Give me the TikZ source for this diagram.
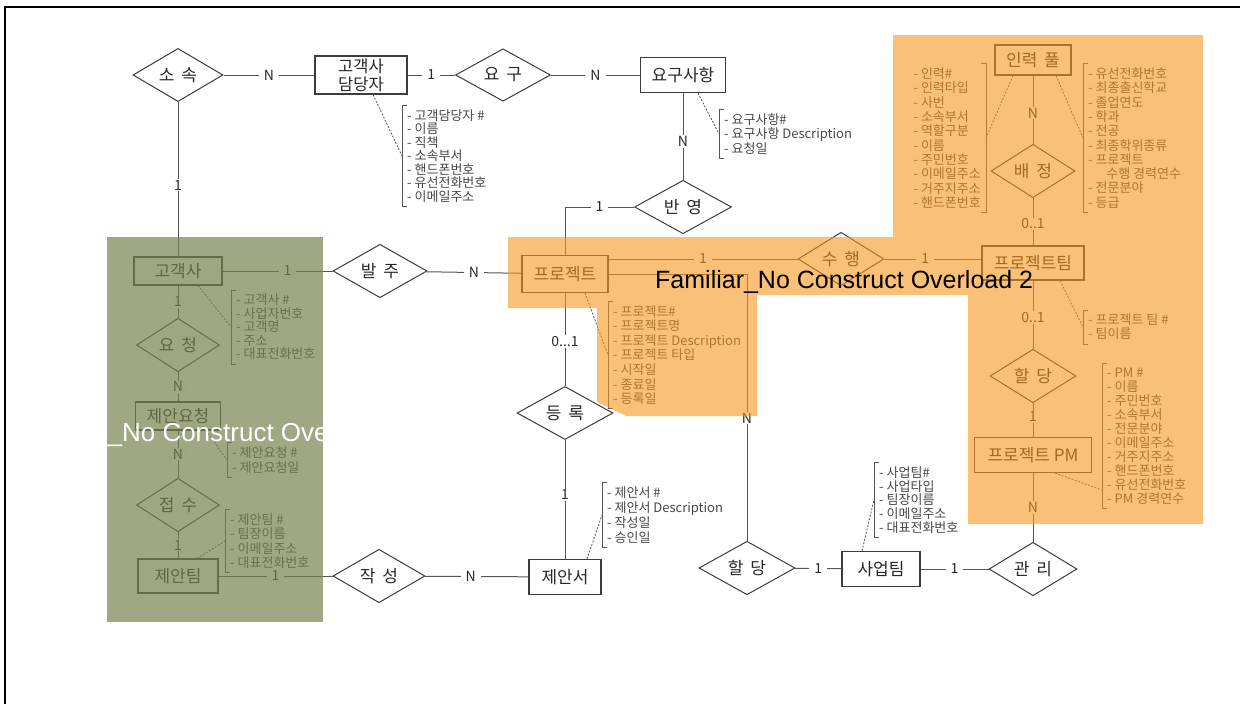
\documentclass[tikz,border=0pt]{standalone}
\usepackage{fontspec}
\setmainfont{Noto Sans CJK KR}
\newfontfamily\latinfont{Liberation Sans}
\usetikzlibrary{shapes.geometric}
\definecolor{linec}{RGB}{85,85,85}
\definecolor{boxc}{RGB}{60,60,60}
\definecolor{txt}{RGB}{40,40,40}
\definecolor{attrc}{RGB}{70,70,70}
\definecolor{orangeov}{RGB}{246,150,30}
\definecolor{greenov}{RGB}{118,130,78}
\newcommand\afont[1]{\fontsize{13}{#1}\selectfont}
\newcommand\gap{\hspace{0.4em}}
\begin{document}
\begin{tikzpicture}[x=1pt,y=-1pt,
 ent/.style={draw=boxc, line width=1.1pt, fill=white, text=txt, font=\fontsize{17}{19}\selectfont, inner sep=0pt, align=center},
 rel/.style={diamond, draw=boxc, line width=1pt, fill=white, text=txt, font=\fontsize{17}{19}\selectfont, inner sep=0pt},
 card/.style={fill=white, text=txt, font=\fontsize{14}{15}\selectfont, inner xsep=5pt, inner ysep=1pt},
 attr/.style={text=attrc, align=left, inner xsep=5pt, inner ysep=4pt},
 conn/.style={draw=linec, line width=1pt},
 dashln/.style={draw=linec, line width=0.8pt, dash pattern=on 2pt off 1.5pt},
 brk/.style={draw=linec, line width=0.8pt},
 ovtext/.style={font=\latinfont\fontsize{25}{25}\selectfont, inner sep=0pt, anchor=base west}]
\useasboundingbox (0,0) rectangle (1240,704);
% frame
\draw[line width=2.2pt, black] (5,704) -- (5,7) -- (1240,7);

% entities
\node[ent, minimum width=92, minimum height=38, font=\fontsize{16.5}{18}\selectfont] (damdang) at (361,75) {고객사\\담당자};
\node[ent, minimum width=85, minimum height=35] (yogusahang) at (683,75) {요구사항};
\node[ent, minimum width=88, minimum height=28] (gogaeksa) at (178,271) {고객사};
\node[ent, minimum width=86, minimum height=37] (project) at (565,274) {프로젝트};
\node[ent, minimum width=85, minimum height=28] (jeanyocheong) at (178,416) {제안요청};
\node[ent, minimum width=80, minimum height=34] (jeanteam) at (178,576) {제안팀};
\node[ent, minimum width=72, minimum height=35] (jeanseo) at (565,577) {제안서};
\node[ent, minimum width=78, minimum height=35] (saeop) at (881,569) {사업팀};
\node[ent, minimum width=76, minimum height=30] (inryeok) at (1033,60) {인력\gap 풀};
\node[ent, minimum width=102, minimum height=34] (projteam) at (1033,263) {프로젝트팀};
\node[ent, minimum width=117, minimum height=35] (pm) at (1033,455) {프로젝트 PM};

% relationships
\node[rel, minimum width=90, minimum height=40] (sosok) at (178,75) {소\gap 속};
\node[rel, minimum width=95, minimum height=42] (yogu) at (503,75) {요\gap 구};
\node[rel, minimum width=97, minimum height=40] (banyeong) at (683,207) {반\gap 영};
\node[rel, minimum width=94, minimum height=40] (balju) at (380,271) {발\gap 주};
\node[rel, minimum width=83, minimum height=40] (yocheong) at (178,345) {요\gap 청};
\node[rel, minimum width=83, minimum height=37] (jeopsu) at (178,505) {접\gap 수};
\node[rel, minimum width=96, minimum height=40] (deungrok) at (565,413) {등\gap 록};
\node[rel, minimum width=92, minimum height=40] (jakseong) at (379,576) {작\gap 성};
\node[rel, minimum width=96, minimum height=40] (halldangB) at (747,568) {할\gap 당};
\node[rel, minimum width=88, minimum height=38] (gwanri) at (1033,569) {관\gap 리};
\node[rel, minimum width=86, minimum height=34] (suhaeng) at (841,259) {수\gap 행};
\node[rel, minimum width=84, minimum height=38] (baejeong) at (1033,171) {배\gap 정};
\node[rel, minimum width=86, minimum height=40] (halldangA) at (1033,376) {할\gap 당};

% connectors
\draw[conn] (sosok) -- node[card]{N} (damdang);
\draw[conn] (damdang) -- node[card]{1} (yogu);
\draw[conn] (yogu) -- node[card]{N} (yogusahang);
\draw[conn] (yogusahang) -- node[card, pos=0.56]{N} (banyeong);
\draw[conn] (banyeong.west) -- node[card]{1} (banyeong.west -| project.north) -- (project.north);
\draw[conn] (sosok) -- node[card, pos=0.54]{1} (gogaeksa);
\draw[conn] (gogaeksa) -- node[card, pos=0.59]{1} (balju);
\draw[conn] (balju) -- node[card]{N} (project);
\draw[conn] (project) -- node[card, pos=0.52]{0...1} (deungrok);
\draw[conn] (deungrok) -- node[card, pos=0.46]{1} (jeanseo);
\draw[conn] (suhaeng.west) -- node[card]{1} (suhaeng.west -| project.east);
\draw[conn] (suhaeng.east) -- node[card, pos=0.42]{1} (suhaeng.east -| projteam.west);
\draw[conn] (project.east) -| node[card, pos=0.77]{N} (halldangB.north);
\draw[conn] (halldangB) -- node[card]{1} (saeop);
\draw[conn] (saeop) -- node[card]{1} (gwanri);
\draw[conn] (gwanri) -- node[card]{N} (pm);
\draw[conn] (inryeok) -- node[card, pos=0.55]{N} (baejeong);
\draw[conn] (baejeong) -- node[card, pos=0.54]{0..1} (projteam);
\draw[conn] (projteam) -- node[card, pos=0.54]{0..1} (halldangA);
\draw[conn] (halldangA) -- node[card, pos=0.4]{1} (pm);
\draw[conn] (jakseong) -- node[card, pos=0.44]{N} (jeanseo);
\draw[conn] (jeanteam) -- node[card]{1} (jakseong);
\draw[conn] (gogaeksa) -- node[card]{1} (yocheong);
\draw[conn] (yocheong) -- node[card]{N} (jeanyocheong);
\draw[conn] (jeanyocheong) -- node[card]{N} (jeopsu);
\draw[conn] (jeopsu) -- node[card]{1} (jeanteam);

% attribute lists
\node[attr, font=\afont{13.5}, anchor=west] (A1) at (402,156) {- 고객담당자 \#\\- 이름\\- 직책\\- 소속부서\\- 핸드폰번호\\- 유선전화번호\\- 이메일주소};
\node[attr, font=\afont{14.5}, anchor=west] (A2) at (719,134) {- 요구사항\#\\- 요구사항 Description\\- 요청일};
\node[attr, font=\afont{14.3}, anchor=east] (A3) at (986,138) {- 인력\#\\- 인력타입\\- 사번\\- 소속부서\\- 역할구분\\- 이름\\- 주민번호\\- 이메일주소\\- 거주지주소\\- 핸드폰번호};
\node[attr, font=\afont{14.3}, anchor=west] (A4) at (1083,138) {- 유선전화번호\\- 최종출신학교\\- 졸업연도\\- 학과\\- 전공\\- 최종학위종류\\- 프로젝트\\\hspace*{1.4em}수행 경력연수\\- 전문분야\\- 등급};
\node[attr, font=\afont{13.5}, anchor=west] (A5) at (231,327) {- 고객사 \#\\- 사업자번호\\- 고객명\\- 주소\\- 대표전화번호};
\node[attr, font=\afont{14.6}, anchor=west] (A6) at (608,355) {- 프로젝트\#\\- 프로젝트명\\- 프로젝트 Description\\- 프로젝트 타입\\- 시작일\\- 종료일\\- 등록일};
\node[attr, font=\afont{14}, anchor=west] (A7) at (1083,327) {- 프로젝트 팀 \#\\- 팀이름};
\node[attr, font=\afont{14.5}, anchor=west] (A8) at (227,460) {- 제안요청 \#\\- 제안요청일};
\node[attr, font=\afont{14.4}, anchor=west] (A9) at (225,541) {- 제안팀 \#\\- 팀장이름\\- 이메일주소\\- 대표전화번호};
\node[attr, font=\afont{14}, anchor=west] (A10) at (1102,436) {- PM \#\\- 이름\\- 주민번호\\- 소속부서\\- 전문분야\\- 이메일주소\\- 거주지주소\\- 핸드폰번호\\- 유선전화번호\\- PM 경력연수};
\node[attr, font=\afont{15}, anchor=west] (A11) at (602,515) {- 제안서 \#\\- 제안서 Description\\- 작성일\\- 승인일};
\node[attr, font=\afont{13.8}, anchor=west] (A12) at (874,500) {- 사업팀\#\\- 사업타입\\- 팀장이름\\- 이메일주소\\- 대표전화번호};

% brackets
\foreach \a in {A1,A2,A4,A5,A6,A7,A8,A9,A10,A11,A12}{
  \draw[brk] ([xshift=5pt]\a.north west) -- (\a.north west) -- (\a.south west) -- ([xshift=5pt]\a.south west);
}
\draw[brk] ([xshift=-5pt]A3.north east) -- (A3.north east) -- (A3.south east) -- ([xshift=-5pt]A3.south east);

% dashed links to attribute lists
\coordinate (pmend) at (1102,490);
\draw[dashln] ([xshift=12pt]damdang.south) -- (A1.west);
\draw[dashln] ([xshift=15pt]yogusahang.south) -- (A2.west);
\draw[dashln] ([xshift=-20pt]inryeok.south) -- (A3.east);
\draw[dashln] ([xshift=23pt]inryeok.south) -- (A4.west);
\draw[dashln] ([xshift=20pt]gogaeksa.south) -- (A5.west);
\draw[dashln] ([xshift=20pt]project.south) -- (A6.west);
\draw[dashln] ([xshift=27pt]projteam.south) -- (A7.west);
\draw[dashln] ([xshift=28pt]jeanyocheong.south) -- (A8.west);
\draw[dashln] ([xshift=19pt]jeanteam.north) -- (A9.west);
\draw[dashln] ([xshift=22pt]pm.south) -- (pmend);
\draw[dashln] ([xshift=22pt]jeanseo.north) -- (A11.west);
\draw[dashln] ([xshift=-19pt]saeop.north) -- (A12.west);

% overlays
\fill[orangeov, opacity=0.6] (508,237) -- (893,237) -- (893,35) -- (1203,35) -- (1203,524) -- (968,524) -- (968,295) -- (757,295) -- (757,416) -- (626,416) -- (597,402) -- (597,308) -- (508,308) -- cycle;
\fill[greenov, opacity=0.7] (107,237) rectangle (323,622);
\begin{scope}
  \clip (107,237) rectangle (323,622);
  \node[ovtext, text=white, font=\latinfont\fontsize{26}{26}\selectfont] (ov1) at (15,441) {Familiar\_No Construct Overload 1};
\end{scope}
\node[ovtext, text=black] (ov2) at (655,288) {Familiar\_No Construct Overload 2};
\end{tikzpicture}
\end{document}
